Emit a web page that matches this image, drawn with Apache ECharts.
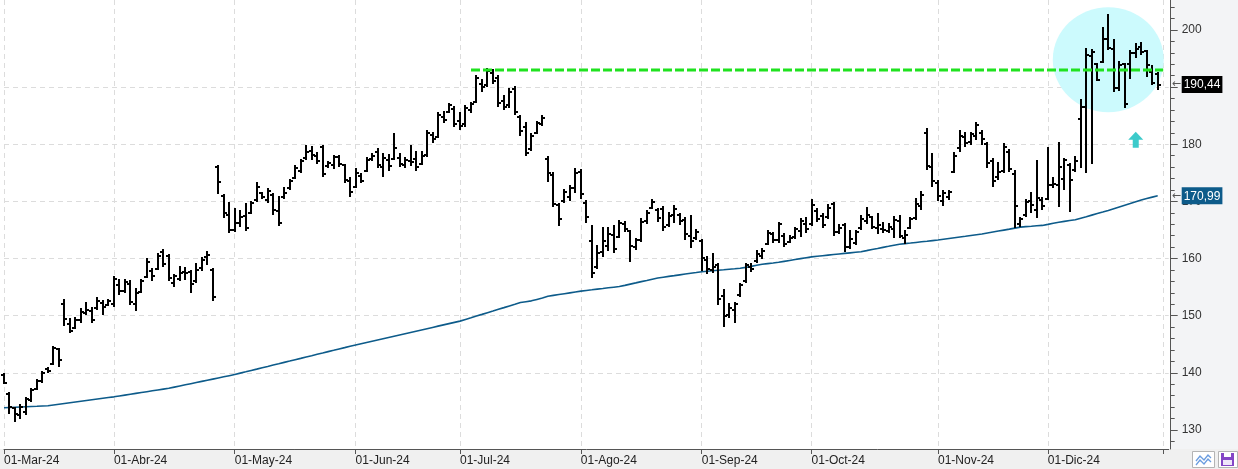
<!DOCTYPE html>
<html><head><meta charset="utf-8">
<script src="https://cdn.jsdelivr.net/npm/echarts@6/dist/echarts.min.js"></script>
<style>html,body{margin:0;padding:0;background:#fff}#c{width:1238px;height:469px}</style>
</head><body><div id="c"></div>
<script>
// ---- calendar (trading days) ----
const monthNames = ['Ene','Feb','Mar','Abr','May','Jun','Jul','Ago','Sep','Oct','Nov','Dic'];
const daysMar = [1,4,5,6,7,8,11,12,13,14,15,18,19,20,21,22,25,26,27,28];
const daysApr = [1,2,3,4,5,8,9,10,11,12,15,16,17,18,19,22,23,24,25,26,29,30];
const daysMay = [1,2,3,6,7,8,9,10,13,14,15,16,17,20,21,22,23,24,28,29,30,31];
const daysJun = [3,4,5,6,7,10,11,12,13,14,17,18,20,21,24,25,26,27,28];
const daysJul = [1,2,3,5,8,9,10,11,12,15,16,17,18,19,22,23,24,25,26,29,30,31];
const daysAug = [1,2,5,6,7,8,9,12,13,14,15,16,19,20,21,22,23,26,27,28,29,30];
const daysSep = [3,4,5,6,9,10,11,12,13,16,17,18,19,20,23,24,25,26,27,30];
const daysOct = [1,2,3,4,7,8,9,10,11,14,15,16,17,18,21,22,23,24,25,28,29,30,31];
const daysNov = [1,4,5,6,7,8,11,12,13,14,15,18,19,20,21,22,25,26,27,29];
const daysDec = [2,3,4,5,6,9,10,11,12,13,16,17,18,19,20,23,24,26,27,30,31];
const daysJan25 = [2,3]; // empty padding at the right edge

// ---- price data (OHLC) ----
const open = [139.6,136.3,133.8,132.6,133.2,135.2,137.2,138.6,140.6,141.6,144.1,152.0,148.5,147.8,149.3,150.5,150.8,151.3,152.2,151.9,
152.0,155.3,154.4,155.5,152.0,154.2,156.8,157.8,158.2,161.2,160.4,155.8,156.5,157.6,157.6,156.0,158.3,160.2,158.0,176.0,171.0,167.6,
165.0,166.2,167.5,168.0,170.3,171.5,170.3,171.2,168.3,170.8,172.3,174.1,175.3,177.6,178.8,178.0,179.6,176.2,176.3,177.8,176.3,173.5,
172.6,174.5,175.4,177.4,178.6,176.0,177.3,177.5,177.6,176.4,177.0,177.4,176.6,178.1,181.6,181.3,184.8,185.6,186.2,
184.0,183.5,186.0,187.4,190.6,190.4,192.5,191.6,187.6,186.8,189.6,184.8,183.1,179.2,182.0,183.5,177.5,174.6,169.3,170.0,170.8,172.4,
175.2,169.8,163.0,158.5,161.2,162.2,164.2,163.8,166.0,164.8,162.0,163.3,166.5,168.8,168.5,168.7,165.9,167.6,167.6,166.8,164.0,163.6,
163.0,159.8,158.0,158.8,153.5,150.2,151.0,153.6,156.0,158.6,159.5,160.5,162.6,164.3,163.2,164.0,162.9,163.7,164.8,166.0,
166.0,168.4,167.5,167.2,169.5,164.6,165.8,162.0,162.8,165.3,166.5,167.2,165.3,165.2,164.8,165.2,166.5,163.6,165.4,167.1,169.2,182.0,176.0,
173.2,170.0,170.8,175.2,179.3,181.2,180.4,181.4,182.0,180.0,177.0,174.2,175.4,178.6,174.8,166.0,167.6,170.0,168.5,170.3,
170.4,172.8,172.8,174.0,176.3,175.5,184.4,186.6,195.5,194.0,194.4,198.4,196.6,189.8,194.0,194.0,196.0,197.1,196.3,192.7,192.3];
const high = [139.9,136.6,134.1,134.55,135.8,137.3,138.9,140.3,140.95,144.7,144.4,152.9,149.55,149.7,151.3,152.45,151.6,153.2,152.75,152.85,
156.95,156.5,156.5,156.25,154.8,156.5,160.05,158.3,161.05,161.7,160.75,157.25,158.7,158.6,158.0,159.2,160.3,161.3,158.3,176.4,171.3,169.85,
168.8,168.5,169.7,170.0,173.35,171.7,172.3,171.4,170.9,172.6,173.9,176.4,177.4,179.9,179.7,178.7,179.9,177.1,178.1,178.1,176.55,174.3,
175.8,174.9,177.8,178.5,179.3,178.4,178.25,182.0,178.4,177.8,179.8,178.8,178.8,182.5,182.2,185.6,185.8,187.3,186.65,
185.6,186.9,187.45,192.1,191.4,193.3,193.2,192.1,188.6,189.8,190.2,185.1,183.95,182.0,184.1,185.1,177.9,175.2,169.7,172.1,172.9,175.8,
175.6,170.25,165.9,162.4,165.6,165.6,165.9,166.75,166.6,165.0,163.55,167.05,168.5,170.4,168.8,169.2,168.2,169.4,168.0,167.3,167.6,165.1,
163.4,160.45,160.9,159.2,154.6,152.2,152.45,155.7,159.2,159.2,161.5,161.8,165.0,164.7,166.45,164.4,164.1,165.6,167.05,167.3,
170.4,168.8,167.9,169.5,169.85,166.0,166.2,165.0,165.0,167.6,169.0,167.45,167.9,166.35,166.2,167.5,167.6,165.0,167.3,170.55,171.8,182.8,178.4,
173.75,172.0,172.0,178.7,182.5,182.2,182.2,183.95,182.5,180.45,177.55,176.95,180.2,179.1,175.5,167.3,170.4,171.7,177.25,170.8,
179.6,174.3,180.45,177.55,176.7,177.95,187.9,196.8,196.6,194.3,200.5,202.8,198.5,194.6,194.2,196.5,197.7,197.95,196.5,193.9,192.7];
const low = [138.0,132.75,131.45,131.9,132.6,134.85,137.0,138.2,139.9,141.4,141.1,148.2,146.9,147.6,148.8,150.1,148.65,151.0,150.1,151.7,
151.6,153.6,154.0,151.9,150.9,153.9,156.55,156.1,158.0,158.5,156.1,155.1,156.05,156.25,153.9,155.7,157.9,158.9,152.6,171.25,167.05,164.4,
164.7,165.6,164.9,167.8,169.95,170.4,169.7,167.6,165.7,170.4,172.0,173.9,174.9,177.25,177.25,176.55,174.3,175.9,175.6,176.1,173.2,170.8,
172.3,173.2,175.2,177.1,175.8,174.2,175.3,177.25,176.0,175.8,176.2,175.4,176.4,177.8,180.2,181.05,183.7,185.4,183.1,
182.5,183.1,185.4,187.2,189.2,190.1,190.5,186.6,186.0,186.3,185.1,181.45,178.0,178.9,181.8,183.2,173.45,169.1,165.7,169.7,170.0,171.5,
170.4,166.2,156.65,158.1,160.3,161.4,160.9,163.55,164.7,159.45,161.5,162.95,166.05,168.6,166.45,164.9,165.5,166.2,165.9,163.25,161.9,163.25,
157.9,157.3,157.4,151.9,148.1,149.55,148.7,153.3,155.8,157.7,159.3,159.9,162.4,162.8,162.8,162.0,162.7,163.4,163.7,164.5,
165.75,166.45,165.3,166.9,164.0,164.25,161.2,161.6,162.4,165.0,166.05,165.1,164.3,164.5,164.4,163.65,163.55,162.5,165.1,166.75,168.5,175.5,172.5,
170.1,169.2,170.25,174.9,178.7,179.6,179.9,180.75,179.9,175.8,172.6,173.75,175.0,175.2,165.3,165.6,167.3,167.9,167.05,168.5,
170.25,172.3,169.1,172.0,168.2,175.2,175.8,174.9,176.55,191.1,194.2,196.5,189.1,189.4,186.3,191.5,195.05,195.6,191.8,190.4,189.5];
const close = [138.2,134.0,132.8,134.0,135.4,137.0,138.5,140.0,140.3,144.3,142.2,149.4,147.4,149.2,150.7,151.0,149.3,152.6,151.5,152.5,
156.5,154.3,155.9,152.4,154.0,156.1,159.4,157.0,160.5,159.0,156.6,156.9,157.5,157.4,155.6,158.0,159.8,160.6,153.3,173.4,168.0,165.0,
166.3,167.2,165.4,169.7,172.6,170.8,171.9,168.5,166.2,171.5,173.5,175.9,177.0,178.6,178.1,177.0,174.8,176.8,177.8,176.6,173.7,171.6,
174.9,173.6,177.2,178.0,176.4,177.6,176.2,179.3,176.5,177.3,176.9,176.0,178.0,181.9,181.0,185.2,184.3,186.8,183.6,
183.2,186.3,187.1,191.6,190.0,192.8,191.0,187.2,186.6,189.2,185.6,182.4,178.4,181.4,183.7,184.6,175.0,169.6,167.0,171.6,172.3,175.0,
171.3,167.2,157.4,161.0,163.0,164.3,161.6,166.3,165.2,162.2,163.2,166.4,168.0,169.9,167.1,165.6,167.5,168.7,166.6,164.3,163.0,164.6,
160.1,158.1,158.6,153.0,150.0,151.4,152.0,155.3,158.8,158.2,160.8,161.4,164.5,163.2,166.0,162.6,163.6,165.1,166.5,165.1,
169.3,167.0,165.8,168.9,164.6,165.4,162.0,163.5,164.6,166.9,167.6,165.6,165.8,165.0,165.5,166.7,163.9,164.2,166.9,169.6,171.2,176.2,173.5,
171.0,171.4,171.6,178.0,181.5,180.3,181.8,183.3,181.0,176.8,173.6,175.2,179.5,175.6,169.2,167.0,169.9,169.4,170.6,169.2,
172.8,173.0,176.0,177.2,173.8,177.1,186.5,195.7,196.2,191.3,198.5,196.8,189.8,193.9,187.0,196.0,196.6,196.2,193.9,190.7,190.44];
// long moving average
const ma = [133.90,133.94,133.98,134.02,134.06,134.10,134.14,134.20,134.25,
134.38,134.51,134.64,134.77,134.90,135.03,135.16,135.29,135.42,135.55,135.68,135.80,
135.95,136.10,136.25,136.40,136.55,136.70,136.85,137.00,137.15,137.30,
137.50,137.70,137.90,138.10,138.30,138.50,138.70,138.90,139.10,139.30,139.50,139.70,
139.95,140.18,140.42,140.65,140.89,141.12,141.36,141.59,141.83,142.06,142.30,142.53,142.77,143.00,143.24,143.47,143.71,143.94,144.18,144.41,144.65,
144.87,145.09,145.31,145.53,145.75,145.97,146.19,146.41,146.63,146.85,147.07,147.29,147.51,147.73,147.95,148.17,148.39,148.61,148.83,149.05,
149.35,149.64,149.94,150.23,150.53,150.82,151.12,151.41,151.71,152.00,152.30,
152.45,152.60,152.85,153.10,153.40,
153.55,153.70,153.85,154.00,154.15,154.30,
154.42,154.53,154.65,154.76,154.88,154.99,155.10,
155.31,155.53,155.74,155.96,156.17,156.39,156.60,
156.74,156.88,157.01,157.15,157.29,157.43,157.56,157.70,
157.79,157.87,157.96,158.04,158.13,158.21,158.30,
158.45,158.63,158.82,159.00,159.12,159.23,159.35,
159.51,159.67,159.83,159.99,160.15,160.30,
160.40,160.50,160.60,160.70,160.80,160.90,161.00,161.10,161.20,
161.39,161.59,161.77,161.96,162.14,162.33,162.50,
162.61,162.71,162.82,162.93,163.03,163.14,163.25,
163.38,163.51,163.64,163.77,163.90,164.04,164.17,164.30,
164.47,164.64,164.81,164.98,165.15,165.33,165.50,
165.58,165.65,165.73,165.80,
165.98,166.17,166.35,
166.50,166.65,166.80,
167.07,167.33,167.60,167.87,168.13,168.40,
168.71,169.02,169.33,169.63,169.94,170.25,
170.50,170.75,170.99];

// ---- annotations ----
const resistanceLevel = 193.0;
const resistanceFrom = '2024-07-03';
const resistanceTo = '2025-01-02';
const circleDate = '2024-12-17', circleValue = 194.8;
const arrowDate = '2024-12-24', arrowValue = 180.8;

// ---- axis ticks ----
const yMin = 126.67, yMax = 205.25;
const yMajorTicks = [130,140,150,160,170,180,190,200];
const yMinorTicks = [128,132,134,136,138,142,144,146,148,152,154,156,158,162,164,166,168,172,174,176,178,182,184,186,188,192,194,196,198,202,204];

// ---- build categories ----
const monthBlocks = [['2024-03',daysMar],['2024-04',daysApr],['2024-05',daysMay],['2024-06',daysJun],['2024-07',daysJul],
  ['2024-08',daysAug],['2024-09',daysSep],['2024-10',daysOct],['2024-11',daysNov],['2024-12',daysDec],['2025-01',daysJan25]];
const dates = [];
const monthStart = new Set();
const labelStart = new Set();
monthBlocks.forEach(([ym, ds]) => {
  ds.forEach((d, k) => {
    if (k === 0) { monthStart.add(dates.length); if (ym !== '2025-01') labelStart.add(dates.length); }
    dates.push(ym + '-' + String(d).padStart(2, '0'));
  });
});
const ohlc = close.map((c, i) => [dates[i], open[i], high[i], low[i], c]);
const fmt = v => v.toFixed(2).replace('.', ',');
const lastClose = close[close.length - 1];
const lastMA = ma[ma.length - 1];
const lastDate = dates[close.length - 1];
const edgeDate = dates[dates.length - 1];
const FONT = 'Liberation Sans, Arial, sans-serif';

const chart = echarts.init(document.getElementById('c'), null, {renderer: 'canvas'});
const priceTag = (value, bg) => ({
  type: 'line', name: 'tag', z: 6, silent: true, symbol: 'none', showSymbol: false,
  data: [[lastDate, value], [edgeDate, value]],
  lineStyle: {color: 'rgba(0,0,0,0)', width: 1},
  endLabel: {
    show: true, distance: 3,
    formatter: () => '{a|←}{b|' + fmt(value) + '}',
    rich: {
      a: {color: '#555', fontSize: 11, width: 10, fontFamily: 'DejaVu Sans'},
      b: {color: '#fff', backgroundColor: bg, fontSize: 12, fontFamily: FONT, padding: [3, 2, 2, 2]}
    }
  }
});
chart.setOption({
  animation: false,
  backgroundColor: '#fff',
  grid: {left: 4, right: 69.3, top: 0, bottom: 20, containLabel: false, outerBoundsMode: 'none'},
  graphic: [
    {type: 'rect', z: -1, shape: {x: 1171, y: 0, width: 67, height: 449}, style: {fill: '#f3f4f6'}},
    {type: 'rect', z: -1, shape: {x: 0, y: 449, width: 1238, height: 20}, style: {fill: '#f0f0f0'}},
    {type: 'rect', z: 10, shape: {x: 1192.5, y: 451.5, width: 22, height: 16}, style: {fill: '#fff', stroke: '#b4b4b4', lineWidth: 1}},
    {type: 'polyline', z: 11, shape: {points: [[1196, 461], [1200, 456], [1204, 460], [1208, 455], [1211, 458]]}, style: {stroke: '#6b9de0', lineWidth: 1.3, fill: null}},
    {type: 'polyline', z: 11, shape: {points: [[1196, 465], [1200, 460], [1204, 464], [1208, 459], [1211, 462]]}, style: {stroke: '#6b9de0', lineWidth: 1.3, fill: null}},
    {type: 'rect', z: 10, shape: {x: 1218.5, y: 451.5, width: 19, height: 16}, style: {fill: '#fff', stroke: '#b4b4b4', lineWidth: 1}},
    {type: 'rect', z: 11, shape: {x: 1221, y: 453, width: 13, height: 13}, style: {fill: '#8446c6'}},
    {type: 'rect', z: 12, shape: {x: 1224, y: 453, width: 7, height: 4}, style: {fill: '#fff'}},
    {type: 'rect', z: 12, shape: {x: 1223, y: 460, width: 9, height: 5}, style: {fill: '#efe6fa'}}
  ],
  xAxis: {
    type: 'category', data: dates, boundaryGap: false,
    axisLine: {show: true, lineStyle: {color: '#555', width: 1}},
    axisTick: {show: true, interval: (i) => monthStart.has(i), length: 5, lineStyle: {color: '#555'}},
    axisLabel: {
      interval: (i) => labelStart.has(i), align: 'left', margin: 6, color: '#222', fontSize: 12, fontFamily: FONT,
      formatter: (v) => { const p = v.split('-'); return '01-' + monthNames[+p[1] - 1] + '-' + p[0].slice(2); }
    },
    splitLine: {show: true, interval: (i) => monthStart.has(i), lineStyle: {color: '#dcdcdc', type: [5, 4], width: 1}}
  },
  yAxis: [
    {
      type: 'value', position: 'right', offset: 2, min: yMin, max: yMax, splitNumber: 8,
      axisLine: {show: true, onZero: false, lineStyle: {color: '#555'}},
      axisTick: {show: true, length: 7, customValues: yMajorTicks, lineStyle: {color: '#555'}},
      axisLabel: {customValues: yMajorTicks, margin: 11, color: '#333', fontSize: 12, fontFamily: FONT},
      splitLine: {show: true, showMinLine: false, showMaxLine: false, lineStyle: {color: '#dcdcdc', type: [5, 4]}}
    },
    {
      type: 'value', position: 'right', offset: 2, min: yMin, max: yMax, splitNumber: 8,
      axisLine: {show: false},
      axisTick: {show: true, length: 4, customValues: yMinorTicks, lineStyle: {color: '#555'}},
      axisLabel: {show: false},
      splitLine: {show: false}
    }
  ],
  series: [
    {
      type: 'custom', name: 'highlight', z: 1, silent: true,
      data: [[circleDate, circleValue]],
      encode: {x: 0, y: 1},
      renderItem: (params, api) => {
        const c = api.coord([api.value(0), api.value(1)]);
        return {type: 'circle', x: c[0], y: c[1], scaleX: 55.5 / 52.5, scaleY: 1,
          shape: {cx: 0, cy: 0, r: 52.5}, style: {fill: '#ccfafd'}};
      }
    },
    {
      type: 'line', name: 'MA', data: ma, z: 2, symbol: 'none', showSymbol: false,
      lineStyle: {color: '#0d5b8a', width: 1.6}
    },
    {
      type: 'custom', name: 'OHLC', z: 3, data: ohlc,
      encode: {x: 0, y: [1, 2, 3, 4]},
      renderItem: (params, api) => {
        const xi = api.value(0);
        const pH = api.coord([xi, api.value(2)]);
        const pL = api.coord([xi, api.value(3)]);
        const pO = api.coord([xi, api.value(1)]);
        const pC = api.coord([xi, api.value(4)]);
        const cx = Math.round(pH[0]);
        const top = Math.round(pH[1]);
        const bot = Math.round(pL[1]);
        return {type: 'group', children: [
          {type: 'rect', shape: {x: cx - 1, y: top, width: 2, height: Math.max(2, bot - top)}, style: {fill: '#000'}},
          {type: 'rect', shape: {x: cx - 3, y: Math.round(pO[1]) - 1, width: 2, height: 2}, style: {fill: '#000'}},
          {type: 'rect', shape: {x: cx + 1, y: Math.round(pC[1]) - 1, width: 2, height: 2}, style: {fill: '#000'}}
        ]};
      }
    },
    {
      type: 'line', name: 'Resistencia', z: 4, symbol: 'none', showSymbol: false,
      data: [[resistanceFrom, resistanceLevel], [resistanceTo, resistanceLevel]],
      lineStyle: {color: '#1fe21f', width: 3, type: [9, 3]}
    },
    {
      type: 'scatter', name: 'arrow', z: 4, silent: true,
      data: [[arrowDate, arrowValue]],
      symbol: 'path://M7.5,0L15,8L10.5,8L10.5,16L4.5,16L4.5,8L0,8Z',
      symbolSize: [15, 16],
      itemStyle: {color: '#3ccaca', opacity: 1}
    },
    priceTag(lastClose, '#000'),
    priceTag(lastMA, '#0d5b8a')
  ]
});
</script>
</body></html>
